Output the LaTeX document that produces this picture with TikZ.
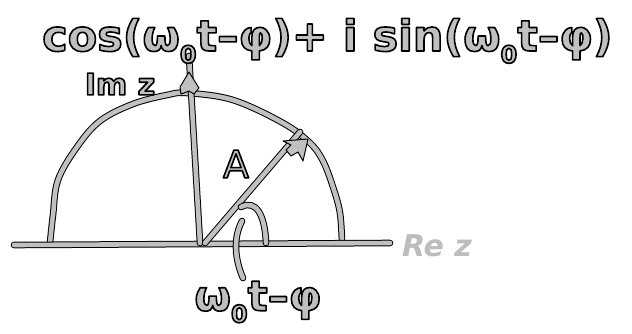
\documentclass[tikz,border=0pt]{standalone}
\usepackage{fontspec}
\setmainfont{DejaVu Sans}
\definecolor{lg}{HTML}{C0C0C0}
\definecolor{rg}{HTML}{BDBDBD}
\tikzset{
  pen/.style={draw=black, line width=1pt, double=lg, double distance=4.6pt, line cap=round, line join=round},
  tip/.style={draw=black, line width=1pt, fill=lg, line join=round},
  lbl/.style={inner sep=0pt, text=lg},
}
\newcommand\outl[1]{\special{pdf:literal direct 2 Tr 1.6 w 0 G 1 j}#1\special{pdf:literal direct 0 Tr}}
\newcommand\sub[1]{\raisebox{-0.28em}{\fontsize{24}{24}\selectfont #1}}
\begin{document}
\begin{tikzpicture}[x=1pt,y=-1pt]
\useasboundingbox (0,0) rectangle (632,333);
% named points
\coordinate (L) at (14,245);
\coordinate (R) at (390,243);
\coordinate (O) at (200,243);
\coordinate (O2) at (205,243);
\coordinate (Itip) at (189,72);
\coordinate (Atip) at (308,139);
\coordinate (angS) at (241,207);
\coordinate (angE) at (266,243);
\coordinate (ptrS) at (242,221);
\coordinate (ptrE) at (243,278);
% arc
\draw[pen] plot[smooth, tension=0.6] coordinates {(50,243) (53,215) (58,180) (77,147) (100,121) (133,104) (167,95) (187,93) (233,100) (283,123) (310,143) (323,161) (333,187) (340,213) (342,243)};
% axis
\draw[pen] (L) -- (R);
% imaginary axis
\draw[pen] (O) -- ([yshift=16pt]Itip);
% vector A
\draw[pen] (O2) -- ([shift={(-8pt,7pt)}]Atip);
% angle arc
\draw[pen] (angS) .. controls (256,199) and (265,215) .. (angE);
% pointer
\draw[pen] (ptrS) .. controls (232,240) and (236,262) .. (ptrE);
% arrow heads
\draw[tip] (Itip) -- (199,88) -- (194,94) -- (189,91) -- (181,94) -- (180,87) -- cycle;
\draw[tip] (Atip) -- (303,161) -- (298,152) -- (291,156) -- (286,150) -- (291,145) -- (283,141) -- cycle;
% labels
\node[lbl, anchor=base west, font=\fontsize{43}{43}\selectfont\bfseries] (formula) at (42,51) {\outl{cos(ω\sub{0}t–φ)+ i sin(ω\sub{0}t–φ)}};
\node[lbl, font=\fontsize{30}{30}\selectfont\bfseries] (imz) at (120,84) {\outl{Im z}};
\node[lbl, font=\fontsize{38}{38}\selectfont] (A) at (236,164) {\outl{A}};
\node[lbl, font=\fontsize{42}{42}\selectfont\bfseries] (ang) at (258,302) {\outl{ω\sub{0}t–φ}};
\node[inner sep=0pt, text=rg, font=\fontsize{30}{30}\selectfont\bfseries\itshape] (rez) at (437,246) {Re z};
\end{tikzpicture}
\end{document}
